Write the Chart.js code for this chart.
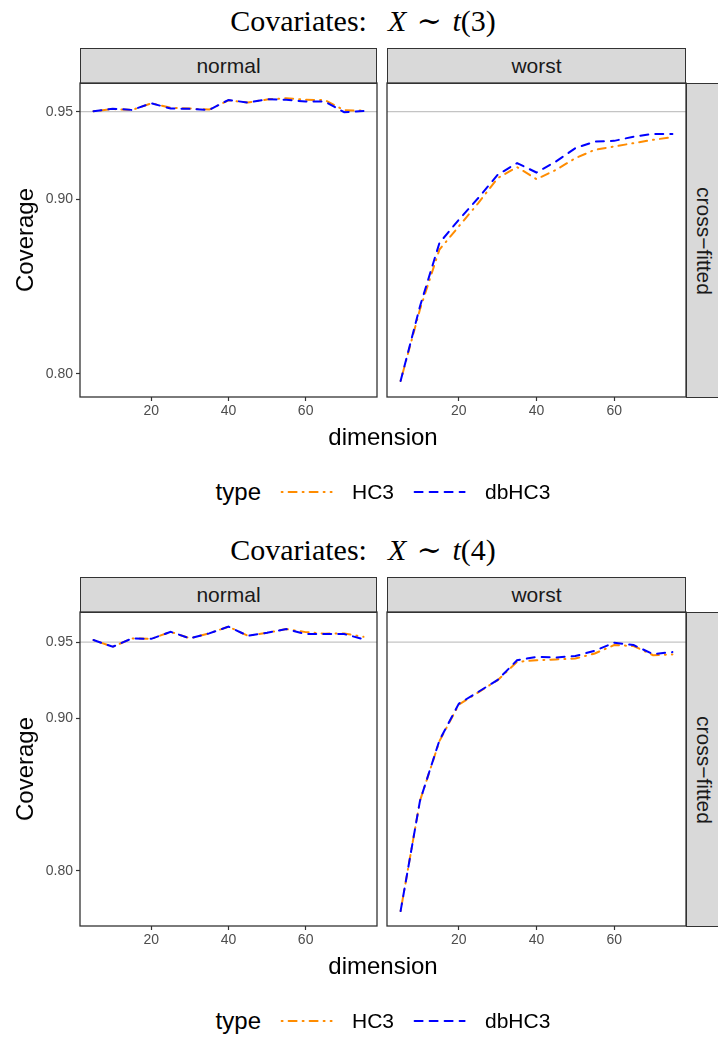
<!DOCTYPE html>
<html>
<head>
<meta charset="utf-8">
<script src="https://cdn.jsdelivr.net/npm/chart.js@4.4.1/dist/chart.umd.min.js"></script>
<style>
  body { margin: 0; background: #fff; width: 718px; height: 1039px; overflow: hidden; position: relative;
         font-family: "Liberation Sans", Arial, sans-serif; }
  .abs { position: absolute; }
  .title { font-family: "Liberation Serif", "DejaVu Serif", serif; font-size: 30px; color: #000;
           white-space: nowrap; transform: translateX(-50%); word-spacing: 3px; }
  .title i { font-style: italic; }
  .strip { background: #d9d9d9; border: 1.3px solid #333; box-sizing: border-box; color: #1a1a1a;
           font-size: 21px; display: flex; align-items: center; justify-content: center; }
  .vtext { transform: rotate(90deg); white-space: nowrap; }
  .axtitle { font-size: 24px; color: #000; white-space: nowrap; }
  .legend { display: flex; align-items: center; white-space: nowrap; transform: translateX(-50%); }
  .legend .lt { font-size: 24px; margin-right: 19px; }
  .legend .lb { font-size: 21px; margin: 0 19px 0 18px; }
  canvas { position: absolute; }
</style>
</head>
<body>
<script>
// x values (dimension) shared by every panel
const dims = [5, 10, 15, 20, 25, 30, 35, 40, 45, 50, 55, 60, 65, 70, 75];

// Covariates X ~ t(3)
const hc3NormalT3   = [0.9503, 0.9515, 0.9510, 0.9548, 0.9523, 0.9518, 0.9512, 0.9565, 0.9552, 0.9570, 0.9577, 0.9568, 0.9566, 0.9508, 0.9506];
const dbhc3NormalT3 = [0.9503, 0.9517, 0.9510, 0.9548, 0.9518, 0.9516, 0.9510, 0.9567, 0.9552, 0.9571, 0.9568, 0.9558, 0.9558, 0.9497, 0.9504];
const hc3WorstT3    = [0.7959, 0.8370, 0.8711, 0.8844, 0.8977, 0.9120, 0.9183, 0.9114, 0.9167, 0.9234, 0.9282, 0.9301, 0.9320, 0.9339, 0.9354];
const dbhc3WorstT3  = [0.7959, 0.8387, 0.8749, 0.8882, 0.9006, 0.9139, 0.9206, 0.9152, 0.9215, 0.9291, 0.9329, 0.9333, 0.9357, 0.9373, 0.9373];

// Covariates X ~ t(4)
const hc3NormalT4   = [0.9513, 0.9469, 0.9524, 0.9521, 0.9567, 0.9524, 0.9557, 0.9601, 0.9541, 0.9561, 0.9585, 0.9565, 0.9555, 0.9556, 0.9534];
const dbhc3NormalT4 = [0.9513, 0.9469, 0.9524, 0.9521, 0.9567, 0.9524, 0.9557, 0.9601, 0.9541, 0.9561, 0.9585, 0.9552, 0.9552, 0.9552, 0.9519];
const hc3WorstT4    = [0.7736, 0.8460, 0.8850, 0.9090, 0.9170, 0.9250, 0.9370, 0.9381, 0.9386, 0.9392, 0.9425, 0.9480, 0.9474, 0.9414, 0.9419];
const dbhc3WorstT4  = [0.7736, 0.8460, 0.8855, 0.9096, 0.9173, 0.9252, 0.9381, 0.9403, 0.9399, 0.9408, 0.9443, 0.9496, 0.9480, 0.9421, 0.9434];

const xTicks = [20, 40, 60];
const yTicks = [0.80, 0.90, 0.95];
const refLevel = 0.95;          // nominal coverage line
const facetNames = ["normal", "worst"];
const rowName = "cross\u2212fitted";
const seriesNames = ["HC3", "dbHC3"];

const xMin = 1.5, xMax = 78.5;

const ORANGE = "#ff8c00", BLUE = "#0000ff";

// panel frame drawn round the chart area (theme_bw look)
const panelFrame = {
  id: "panelFrame",
  afterDraw(chart) {
    const { ctx, chartArea: a } = chart;
    ctx.save();
    ctx.strokeStyle = "#333";
    ctx.lineWidth = 1.3;
    ctx.strokeRect(a.left, a.top, a.right - a.left, a.bottom - a.top);
    ctx.restore();
  }
};

function addDiv(cls, x, y, w, h, html) {
  const d = document.createElement("div");
  d.className = "abs " + cls;
  d.style.left = x + "px";
  d.style.top = y + "px";
  if (w != null) d.style.width = w + "px";
  if (h != null) d.style.height = h + "px";
  d.innerHTML = html;
  document.body.appendChild(d);
  return d;
}

function makePanel(left, top, width, height, hc3, dbhc3, yMin, yMax, showY) {
  const cv = document.createElement("canvas");
  cv.width = width; cv.height = height;
  cv.style.left = left + "px"; cv.style.top = top + "px";
  document.body.appendChild(cv);

  const tickGrid = { display: true, drawOnChartArea: false, drawTicks: true,
                     tickLength: 4, tickColor: "#333", tickWidth: 1.2 };

  new Chart(cv, {
    type: "line",
    data: {
      datasets: [
        { label: seriesNames[1], data: dims.map((d, i) => ({ x: d, y: dbhc3[i] })),
          borderColor: BLUE, borderWidth: 2, borderDash: [8, 7], borderCapStyle: "round",
          pointRadius: 0, tension: 0, order: 0 },
        { label: seriesNames[0], data: dims.map((d, i) => ({ x: d, y: hc3[i] })),
          borderColor: ORANGE, borderWidth: 2, borderDash: [1, 6, 8, 6], borderCapStyle: "round",
          pointRadius: 0, tension: 0, order: 1 },
        { label: "ref", data: [{ x: xMin, y: refLevel }, { x: xMax, y: refLevel }],
          borderColor: "#c4c4c4", borderWidth: 1.3, pointRadius: 0, order: 2 }
      ]
    },
    options: {
      responsive: false,
      animation: false,
      layout: { autoPadding: false, padding: { top: 2, left: showY ? 0 : 3, right: 3, bottom: 0 } },
      plugins: { legend: { display: false }, tooltip: { enabled: false } },
      scales: {
        x: {
          type: "linear", min: xMin, max: xMax,
          afterBuildTicks: s => { s.ticks = xTicks.map(v => ({ value: v })); },
          afterFit: s => { s.height = 30; s.paddingLeft = 0; s.paddingRight = 0; },
          grid: tickGrid, border: { display: false },
          ticks: { color: "#4d4d4d", font: { size: 14, family: "Liberation Sans" }, padding: 2,
                   maxRotation: 0, callback: v => String(v) }
        },
        y: {
          display: showY,
          min: yMin, max: yMax,
          afterBuildTicks: s => { s.ticks = yTicks.map(v => ({ value: v })); },
          afterFit: s => { s.width = showY ? 80 : 0; s.paddingTop = 0; s.paddingBottom = 0; },
          grid: tickGrid, border: { display: false },
          ticks: { color: "#4d4d4d", font: { size: 14, family: "Liberation Sans" }, padding: 3,
                   callback: v => Number(v).toFixed(2) }
        }
      }
    },
    plugins: [panelFrame]
  });
}

function buildFigure(oy, dof, normalHc3, normalDb, worstHc3, worstDb, yMin, yMax) {
  addDiv("title", 363, 3 + oy, null, null,
         "Covariates: &nbsp;<i>X</i> \u223C <i>t</i>(" + dof + ")");

  addDiv("strip", 80, 48 + oy, 297, 36, facetNames[0]);
  addDiv("strip", 387, 48 + oy, 299, 36, facetNames[1]);
  addDiv("strip", 686, 83 + oy, 36, 315, '<div class="vtext">' + rowName + "</div>");

  makePanel(0, 81 + oy, 380, 346, normalHc3, normalDb, yMin, yMax, true);
  makePanel(384, 81 + oy, 305, 346, worstHc3, worstDb, yMin, yMax, false);

  addDiv("axtitle", 0, 0, null, null, "Coverage").style.cssText +=
    ";left:25px;top:" + (240 + oy) + "px;transform:translate(-50%,-50%) rotate(-90deg);";
  addDiv("axtitle", 0, 0, null, null, "dimension").style.cssText +=
    ";left:383px;top:" + (437 + oy) + "px;transform:translate(-50%,-50%);";

  addDiv("legend", 383, 478 + oy, null, null,
    '<span class="lt">type</span>' +
    '<svg width="54" height="10"><line x1="2" y1="5" x2="52" y2="5" stroke="' + ORANGE +
      '" stroke-width="2" stroke-dasharray="1 6 8 6" stroke-linecap="round"/></svg>' +
    '<span class="lb">' + seriesNames[0] + '</span>' +
    '<svg width="54" height="10"><line x1="2" y1="5" x2="52" y2="5" stroke="' + BLUE +
      '" stroke-width="2" stroke-dasharray="8 7" stroke-linecap="round"/></svg>' +
    '<span class="lb" style="margin-right:0">' + seriesNames[1] + '</span>');
}

buildFigure(0, 3, hc3NormalT3, dbhc3NormalT3, hc3WorstT3, dbhc3WorstT3, 0.7868, 0.9664);
buildFigure(529, 4, hc3NormalT4, dbhc3NormalT4, hc3WorstT4, dbhc3WorstT4, 0.7638, 0.9697);
</script>
</body>
</html>
